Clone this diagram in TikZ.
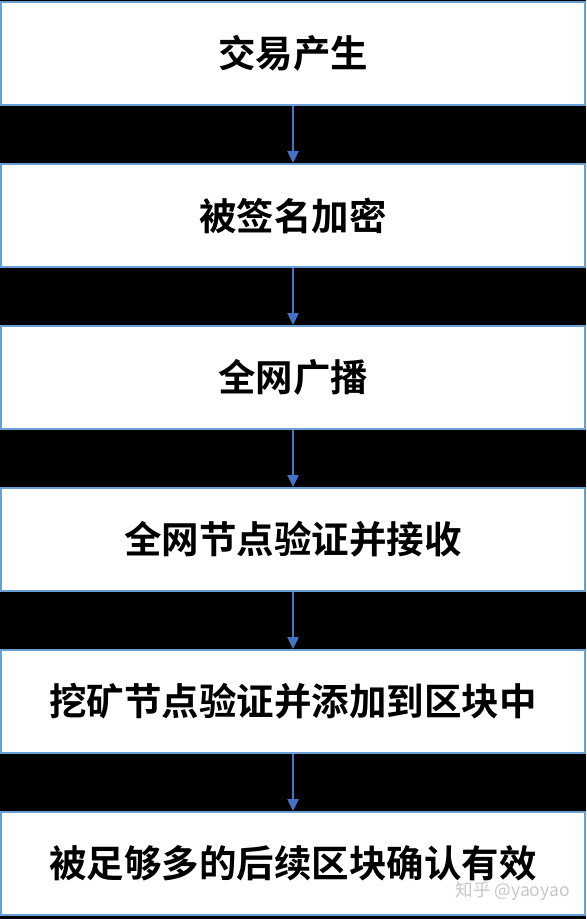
\documentclass[tikz,border=0pt]{standalone}
\usepackage{fontspec}
\newfontfamily\cjk{Noto Sans CJK SC}[BoldFont={Noto Sans CJK SC Bold}]
\usetikzlibrary{arrows.meta,positioning}
\definecolor{boxline}{HTML}{6A9FD4}
\definecolor{arrline}{HTML}{4472C4}
\tikzset{
  % Step box: full-width white panel, blue frame
  stepbox/.style={draw=boxline, fill=white, rectangle, line width=0.06cm,
                  minimum width=17.5cm, minimum height=3.1cm, inner sep=0pt,
                  font=\cjk\bfseries\fontsize{32}{38}\selectfont},
  % Arrows
  flowarr/.style={-{Triangle[length=0.36cm, width=0.34cm]}, draw=arrline,
                  fill=arrline, line width=0.04cm},
  % Watermark
  wmark/.style={font=\cjk\fontsize{15}{18}\selectfont, text=black!22, inner sep=0pt}
}
\begin{document}
\begin{tikzpicture}[node distance=1.70cm]

% Black background, fixes the margins
\fill[black] (0,0) rectangle (17.58,-27.57);
\useasboundingbox (0,0) rectangle (17.58,-27.57);

% Six steps, top to bottom
\node[stepbox, anchor=north] (s1) at (8.79,-0.03) {交易产生};
\node[stepbox, below=of s1] (s2) {被签名加密};
\node[stepbox, below=of s2] (s3) {全网广播};
\node[stepbox, below=of s3] (s4) {全网节点验证并接收};
\node[stepbox, below=of s4] (s5) {挖矿节点验证并添加到区块中};
\node[stepbox, below=of s5] (s6) {被足够多的后续区块确认有效};

% Arrows between steps
\foreach \a/\b in {s1/s2, s2/s3, s3/s4, s4/s5, s5/s6}
  \draw[flowarr] (\a.south) -- (\b.north);

% Watermark
\node[wmark, anchor=east] (wm) at (17.1,-26.72) {知乎 @yaoyao};

\end{tikzpicture}
\end{document}
